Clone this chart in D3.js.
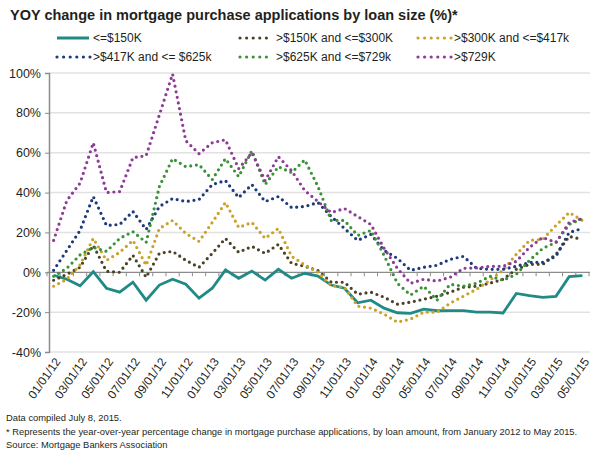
<!DOCTYPE html>
<html><head><meta charset="utf-8">
<script src="https://cdn.jsdelivr.net/npm/d3@7"></script>
<style>
body{margin:0;background:#fff}
svg{display:block}
text{font-family:"Liberation Sans",Arial,Helvetica,sans-serif;fill:#231f20}
</style>
</head><body>
<svg id="chart" width="600" height="451"></svg>
<script>
const categories = ["01/01/12","02/01/12","03/01/12","04/01/12","05/01/12","06/01/12","07/01/12","08/01/12","09/01/12","10/01/12","11/01/12","12/01/12",
"01/01/13","02/01/13","03/01/13","04/01/13","05/01/13","06/01/13","07/01/13","08/01/13","09/01/13","10/01/13","11/01/13","12/01/13",
"01/01/14","02/01/14","03/01/14","04/01/14","05/01/14","06/01/14","07/01/14","08/01/14","09/01/14","10/01/14","11/01/14","12/01/14",
"01/01/15","02/01/15","03/01/15","04/01/15","05/01/15"];
const tickLabels = ["01/01/12","03/01/12","05/01/12","07/01/12","09/01/12","11/01/12","01/01/13","03/01/13","05/01/13","07/01/13","09/01/13","11/01/13",
"01/01/14","03/01/14","05/01/14","07/01/14","09/01/14","11/01/14","01/01/15","03/01/15","05/01/15"];
const yTicks = [-40,-20,0,20,40,60,80,100];

const le150 = [-1.5,-3.5,-6.8,0.3,-8,-10,-5,-14,-6.4,-3.5,-6,-13, -8,1.2,-3,0.6,-3.9,1.5,-3,-0.5,-1.9,-6.4,-8,-15.3, -14,-18,-20.3,-20.6,-18.5,-19.3,-19.2,-19.2,-20,-20,-20.4,-10.6, -11.7,-12.6,-12.1,-2.2,-1.7];
const r150to300 = [-4,-1,2.5,13.5,0.5,0,8.5,-2.5,9.5,10.5,6,2.5, 9.5,17,10,13,9.5,14,4.5,3,0.8,-5,-5,-11, -10,-12.5,-16,-15,-13.5,-12,-10,-7.5,-7,-5.5,-3.5,1.5, 4,4,9,18,16.5];
const r300to417 = [-7,-3.5,3.7,17,6,10,16,3.5,22,26,19.5,15.5, 25,35,22.5,25,17,22,8,3.7,0,-6.7,-7.5,-17, -18,-21,-25,-23.5,-20,-20,-15.5,-12,-8.5,-4,1,9, 16,16.5,23.5,30,26];
const r417to625 = [1,11,21,38,23.5,24,30.5,21.5,33,37,35.5,36.5, 44,46,37.5,44,35.5,38,32.5,33,35,28,22,16, 19,11,7,1,2.5,3.5,6.5,8,2,1.5,1.5,3, 5,5,8,20,22];
const r625to729 = [-2,2,8.7,12.5,10.5,17,20.4,15,43,57,53,54, 46.5,57,48,61,44,53,50,56.4,43,26,26,18.5, 21,8.5,-5.5,-11.4,-7,-14,-6,-7,-5.5,-2,-4,-1, 6,12,15,24,27];
const gt729 = [16,36,44.7,65,40,40.5,57.5,58.5,79,99.5,66,59.5, 65,66.5,52,60,46,58,51,41,35.5,30,32,28, 24,12,2,-5.5,-3.5,-4.4,-2.5,2,2.2,3,3,5.5, 12.5,17.5,15,25,27];

const seriesNames = ["<=$150K", ">$150K and <=$300K", ">$300K and <=$417k", ">$417K and <= $625k", ">$625K and <=$729k", ">$729K"];
const seriesValues = [le150, r150to300, r300to417, r417to625, r625to729, gt729];
const seriesColors = ["#228a86", "#4b4328", "#c9a227", "#1d3a7a", "#3a9138", "#8e3b97"];

const svg = d3.select("#chart");
const x = d3.scaleBand().domain(categories).range([47, 589]);
const y = d3.scaleLinear().domain([-40, 100]).range([352, 73]);
const cx = c => x(c) + x.bandwidth() / 2;

// title
svg.append("text").attr("x", 10).attr("y", 20)
  .style("font-size", "14.5px").style("font-weight", "bold")
  .text("YOY change in mortgage purchase applications by loan size (%)*");

// gridlines
svg.append("g").selectAll("line").data(yTicks.filter(d => d !== 0)).join("line")
  .attr("x1", 49).attr("x2", 590).attr("y1", d => y(d)).attr("y2", d => y(d))
  .attr("stroke", "#e2e2e2").attr("stroke-width", 1.5);

// y axis
const yAxis = svg.append("g").attr("transform", "translate(49,0)")
  .call(d3.axisLeft(y).tickValues(yTicks).tickFormat(d => d + "%").tickSize(4).tickPadding(4));
yAxis.select(".domain").attr("stroke", "#8c8c8c").attr("stroke-width", 1.5);
yAxis.selectAll(".tick line").attr("stroke", "#8c8c8c");
yAxis.selectAll("text").style("font-size", "12.5px").attr("fill", "#231f20");

// zero axis with band ticks
const y0 = y(0);
svg.append("line").attr("x1", 47).attr("x2", 590).attr("y1", y0).attr("y2", y0)
  .attr("stroke", "#8c8c8c").attr("stroke-width", 1.3);
const bounds = categories.map(c => x(c)).concat([x.range()[1]]);
svg.append("g").selectAll("line").data(bounds).join("line")
  .attr("x1", d => d).attr("x2", d => d).attr("y1", y0).attr("y2", y0 + 4)
  .attr("stroke", "#8c8c8c").attr("stroke-width", 1);

// x labels
svg.append("g").selectAll("text").data(tickLabels).join("text")
  .attr("transform", d => `translate(${cx(d) + 4},${359}) rotate(-55)`)
  .attr("text-anchor", "end").attr("dy", "0.35em")
  .style("font-size", "12px").text(d => d);

// series
const line = d3.line().x((d, i) => cx(categories[i])).y(d => y(d));
seriesValues.forEach((vals, k) => {
  const p = svg.append("path").datum(vals).attr("d", line)
    .attr("fill", "none").attr("stroke", seriesColors[k]);
  if (k === 0) {
    p.attr("stroke-width", 2.8).attr("stroke-linejoin", "miter");
  } else {
    p.attr("stroke-width", 3.2).attr("stroke-linecap", "round").attr("stroke-dasharray", "0 5.7");
  }
});

// legend
const legendPos = [[57, 38], [240, 38], [418, 38], [57, 57], [240, 57], [418, 57]];
seriesNames.forEach((name, k) => {
  const [lx, ly] = legendPos[k];
  const g = svg.append("g");
  const ln = g.append("line").attr("x1", lx).attr("x2", k === 0 ? lx + 32 : lx + 33)
    .attr("y1", ly).attr("y2", ly).attr("stroke", seriesColors[k]);
  if (k === 0) ln.attr("stroke-width", 3);
  else ln.attr("stroke-width", 3.2).attr("stroke-linecap", "round").attr("stroke-dasharray", "0 6.6");
  g.append("text").attr("x", lx + 36).attr("y", ly).attr("dy", "0.36em")
    .style("font-size", "12px").text(name);
});

// footnotes: pick the narrowest installed sans family, size so the long line fits
const notes = ["Data compiled July 8, 2015.",
  "* Represents the year-over-year percentage change in mortgage purchase applications, by loan amount, from January 2012 to May 2015.",
  "Source: Mortgage Bankers Association"];
const families = ['"Liberation Sans Narrow"', '"DejaVu Sans Condensed"', '"Liberation Sans"'];
const probe = svg.append("text").style("font-size", "11px").text(notes[1]);
let best = families[2], bestW = Infinity;
families.forEach(f => {
  probe.style("font-family", f + ', "Liberation Sans", Arial, sans-serif');
  const w = probe.node().getComputedTextLength();
  if (w < bestW - 1) { bestW = w; best = f; }
});
probe.remove();
const noteSize = Math.min(11.5, 11 * 572 / bestW);
svg.append("g").selectAll("text").data(notes).join("text")
  .attr("x", 6).attr("y", (d, i) => 421 + i * 13.5)
  .style("font-family", best + ', "Liberation Sans", Arial, sans-serif')
  .style("font-size", noteSize + "px").text(d => d);
</script>
</body></html>
